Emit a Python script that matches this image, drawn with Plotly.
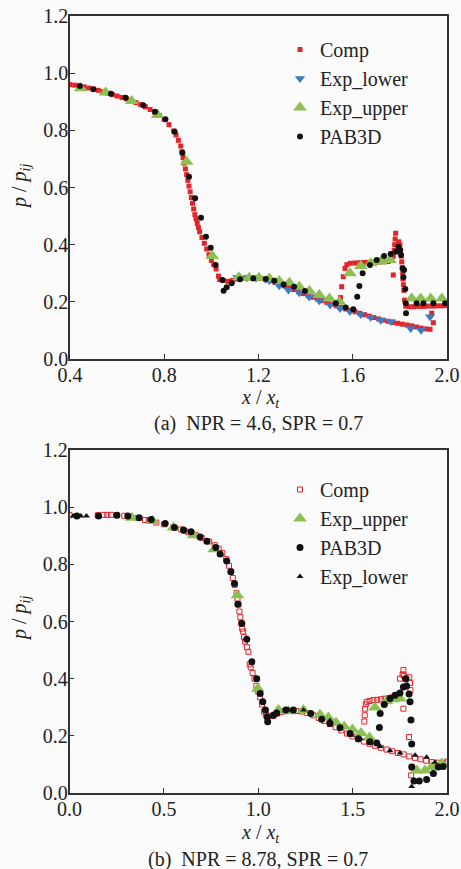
import plotly.graph_objects as go

# ---------------- Panel (a): NPR = 4.6 ----------------
a_comp_x = [0.40, 0.42, 0.44, 0.46, 0.48, 0.50, 0.52, 0.54, 0.56, 0.58, 0.60, 0.62, 0.64, 0.66, 0.68,
            0.70, 0.72, 0.74, 0.76, 0.78, 0.80, 0.82, 0.84, 0.85, 0.86, 0.87, 0.875, 0.88, 0.885, 0.89,
            0.895, 0.90, 0.905, 0.91, 0.915, 0.92, 0.925, 0.93, 0.935, 0.94, 0.945, 0.95, 0.96, 0.97,
            0.98, 0.99, 1.00, 1.01, 1.02, 1.03, 1.035, 1.05, 1.07, 1.09, 1.11, 1.13, 1.15, 1.17, 1.19,
            1.21, 1.23, 1.25, 1.27, 1.29, 1.31, 1.33, 1.35, 1.37, 1.39, 1.41, 1.43, 1.45, 1.47, 1.49,
            1.51, 1.53, 1.55, 1.57, 1.59, 1.61, 1.63, 1.65, 1.67, 1.69, 1.71, 1.73, 1.75, 1.77, 1.79,
            1.81, 1.83, 1.85, 1.87, 1.89, 1.91, 1.928, 1.942, 1.935,
            1.548, 1.553, 1.560, 1.567, 1.575, 1.59, 1.61, 1.63, 1.65, 1.67, 1.69, 1.71, 1.73, 1.75,
            1.765, 1.772, 1.776, 1.778, 1.780, 1.782, 1.772, 1.795, 1.800, 1.803, 1.806, 1.808, 1.810,
            1.812, 1.813, 1.815, 1.817, 1.820, 1.825, 1.84, 1.86, 1.88, 1.90, 1.92, 1.94, 1.96, 1.98,
            2.00]
a_comp_y = [0.960, 0.958, 0.955, 0.952, 0.948, 0.944, 0.940, 0.935, 0.930, 0.925, 0.920, 0.915, 0.910,
            0.904, 0.897, 0.890, 0.882, 0.873, 0.863, 0.852, 0.838, 0.820, 0.798, 0.784, 0.765, 0.745,
            0.725, 0.705, 0.685, 0.665, 0.645, 0.625, 0.605, 0.585, 0.565, 0.545, 0.525, 0.505, 0.490,
            0.475, 0.460, 0.445, 0.425, 0.405, 0.385, 0.365, 0.345, 0.330, 0.315, 0.290, 0.278, 0.275,
            0.272, 0.275, 0.280, 0.282, 0.284, 0.285, 0.284, 0.282, 0.279, 0.274, 0.268, 0.262, 0.256,
            0.250, 0.243, 0.236, 0.229, 0.222, 0.216, 0.210, 0.204, 0.198, 0.192, 0.186, 0.180, 0.175,
            0.170, 0.165, 0.160, 0.155, 0.150, 0.145, 0.140, 0.136, 0.132, 0.128, 0.125, 0.122, 0.119,
            0.116, 0.112, 0.108, 0.105, 0.104, 0.127, 0.160,
            0.215, 0.253, 0.288, 0.317, 0.330, 0.335, 0.336, 0.337, 0.338, 0.338, 0.339, 0.339, 0.340,
            0.341, 0.345, 0.360, 0.380, 0.400, 0.420, 0.440, 0.294, 0.410, 0.400, 0.380, 0.360, 0.340,
            0.320, 0.300, 0.280, 0.260, 0.240, 0.206, 0.185, 0.183, 0.183, 0.184, 0.184, 0.185, 0.185,
            0.186, 0.186, 0.187, 0.188]

a_lower_x = [1.11, 1.15, 1.19, 1.23, 1.246, 1.288, 1.327, 1.373, 1.415, 1.458, 1.504, 1.546, 1.588,
             1.634, 1.676, 1.719, 1.761, 1.846, 1.890, 1.928]
a_lower_y = [0.285, 0.284, 0.283, 0.279, 0.275, 0.256, 0.241, 0.232, 0.218, 0.204, 0.189, 0.177, 0.166,
             0.156, 0.146, 0.136, 0.131, 0.107, 0.101, 0.148]

a_upper_x = [0.445, 0.551, 0.662, 0.772, 0.895, 1.004, 1.117, 1.160, 1.202, 1.246, 1.288, 1.331, 1.373,
             1.416, 1.458, 1.501, 1.543, 1.588, 1.634, 1.676, 1.719, 1.758, 1.850, 1.888, 1.931, 1.978]
a_upper_y = [0.947, 0.932, 0.903, 0.854, 0.690, 0.360, 0.286, 0.284, 0.284, 0.282, 0.273, 0.267, 0.253,
             0.238, 0.224, 0.212, 0.200, 0.300, 0.325, 0.335, 0.341, 0.346, 0.212, 0.212, 0.212, 0.212]

a_pab_x = [0.442, 0.499, 0.574, 0.636, 0.711, 0.761, 0.805, 0.844, 0.877, 0.905, 0.931, 0.956, 0.977,
           0.997, 1.018, 1.047, 1.052, 1.065, 1.086, 1.122, 1.178, 1.231, 1.267, 1.307, 1.351, 1.397,
           1.528, 1.570, 1.602, 1.619, 1.628, 1.642, 1.673, 1.702, 1.733, 1.761, 1.784, 1.794, 1.801,
           1.805, 1.812, 1.818, 1.815, 1.823, 1.825, 1.826, 1.871, 1.900, 1.942, 1.992]
a_pab_y = [0.955, 0.944, 0.928, 0.914, 0.888, 0.865, 0.839, 0.795, 0.722, 0.638, 0.562, 0.494, 0.428,
           0.389, 0.329, 0.276, 0.239, 0.251, 0.265, 0.279, 0.282, 0.280, 0.274, 0.261, 0.253, 0.238,
           0.195, 0.180, 0.174, 0.218, 0.255, 0.300, 0.329, 0.346, 0.360, 0.367, 0.375, 0.393, 0.381,
           0.364, 0.317, 0.311, 0.286, 0.245, 0.195, 0.160, 0.195, 0.195, 0.195, 0.195]

# ---------------- Panel (b): NPR = 8.78 ----------------
b_comp_x = [0.00, 0.15, 0.18, 0.20, 0.22, 0.25, 0.29, 0.32, 0.36, 0.40, 0.42, 0.46, 0.50, 0.55, 0.59,
            0.61, 0.63, 0.67, 0.70, 0.74, 0.77, 0.79, 0.81, 0.83, 0.845, 0.855, 0.865, 0.875, 0.885,
            0.890, 0.895, 0.900, 0.905, 0.910, 0.915, 0.920, 0.925, 0.930, 0.940, 0.948, 0.955, 0.960,
            0.970, 0.980, 0.990, 1.000, 1.010, 1.020, 1.030, 1.040, 1.060, 1.080, 1.100, 1.120, 1.140,
            1.170, 1.200, 1.230, 1.260, 1.290, 1.320, 1.350, 1.380, 1.410, 1.440, 1.470, 1.500, 1.530,
            1.560, 1.590, 1.620, 1.650, 1.680, 1.710, 1.740, 1.770, 1.800, 1.830, 1.860, 1.890, 1.920,
            1.950, 1.980, 2.000,
            1.562, 1.564, 1.566, 1.570, 1.575, 1.590, 1.610, 1.630, 1.650, 1.670, 1.690, 1.710, 1.730,
            1.745, 1.751, 1.765, 1.769, 1.772, 1.785, 1.800, 1.804, 1.806, 1.769, 1.799, 1.810, 1.815]
b_comp_y = [0.972, 0.972, 0.973, 0.973, 0.973, 0.972, 0.970, 0.967, 0.962, 0.955, 0.953, 0.946, 0.940,
            0.930, 0.922, 0.917, 0.912, 0.902, 0.893, 0.880, 0.867, 0.855, 0.840, 0.818, 0.795, 0.775,
            0.752, 0.728, 0.700, 0.680, 0.660, 0.635, 0.615, 0.595, 0.575, 0.565, 0.545, 0.530, 0.510,
            0.494, 0.450, 0.440, 0.420, 0.400, 0.375, 0.355, 0.335, 0.310, 0.285, 0.275, 0.270, 0.270,
            0.278, 0.283, 0.286, 0.288, 0.287, 0.285, 0.280, 0.272, 0.263, 0.252, 0.241, 0.230, 0.219,
            0.208, 0.198, 0.188, 0.180, 0.172, 0.165, 0.158, 0.152, 0.146, 0.140, 0.135, 0.128, 0.123,
            0.118, 0.113, 0.108, 0.106, 0.105, 0.110,
            0.250, 0.272, 0.295, 0.310, 0.319, 0.322, 0.325, 0.326, 0.328, 0.330, 0.332, 0.335, 0.337,
            0.345, 0.400, 0.415, 0.430, 0.410, 0.400, 0.405, 0.385, 0.360, 0.295, 0.196, 0.062, 0.090]

b_upper_x = [0.330, 0.440, 0.551, 0.657, 0.767, 0.890, 0.998, 1.107, 1.160, 1.239, 1.327, 1.371, 1.412,
             1.455, 1.499, 1.545, 1.589, 1.618, 1.680, 1.716, 1.751, 1.839, 1.883, 1.919, 1.972]
b_upper_y = [0.963, 0.952, 0.929, 0.902, 0.853, 0.692, 0.365, 0.290, 0.286, 0.290, 0.274, 0.264, 0.246,
             0.233, 0.222, 0.210, 0.194, 0.299, 0.321, 0.328, 0.331, 0.079, 0.079, 0.091, 0.103]

b_pab_x = [0.039, 0.154, 0.251, 0.309, 0.369, 0.433, 0.507, 0.556, 0.604, 0.644, 0.692, 0.728, 0.775,
           0.798, 0.833, 0.855, 0.874, 0.892, 0.913, 0.939, 0.966, 0.992, 1.010, 1.024, 1.038, 1.047,
           1.050, 1.080, 1.098, 1.146, 1.186, 1.278, 1.336, 1.380, 1.433, 1.486, 1.530, 1.592, 1.628,
           1.642, 1.646, 1.668, 1.698, 1.725, 1.751, 1.769, 1.781, 1.786, 1.799, 1.804, 1.809, 1.813,
           1.813, 1.825, 1.853, 1.892, 1.928, 1.954, 1.980]
b_pab_y = [0.969, 0.969, 0.972, 0.969, 0.963, 0.957, 0.943, 0.929, 0.920, 0.914, 0.896, 0.881, 0.859,
           0.836, 0.812, 0.774, 0.733, 0.660, 0.593, 0.538, 0.459, 0.400, 0.348, 0.319, 0.290, 0.266,
           0.249, 0.272, 0.280, 0.290, 0.290, 0.278, 0.258, 0.243, 0.228, 0.208, 0.190, 0.179, 0.175,
           0.229, 0.278, 0.310, 0.331, 0.342, 0.350, 0.371, 0.400, 0.374, 0.346, 0.319, 0.255, 0.171,
           0.091, 0.042, 0.042, 0.047, 0.068, 0.091, 0.093]

b_lower_x = [0.020, 0.060, 0.090, 1.16, 1.24, 1.38, 1.495, 1.542, 1.590, 1.646, 1.698, 1.751, 1.813,
             1.831, 1.892, 1.936]
b_lower_y = [0.969, 0.969, 0.969, 0.290, 0.290, 0.254, 0.202, 0.190, 0.175, 0.163, 0.148, 0.140, 0.023,
             0.132, 0.125, 0.108]

x_ticks_a = [0.4, 0.8, 1.2, 1.6, 2.0]
x_ticks_b = [0.0, 0.5, 1.0, 1.5, 2.0]
y_ticks = [0.0, 0.2, 0.4, 0.6, 0.8, 1.0, 1.2]

RED = "#e3242b"
BLUE = "#3b7cc2"
GREEN = "#8cc152"
BLACK = "#111111"
FONT = "Liberation Serif"
W, H = 461, 869


def px(x):
    return x / W


def py(y):
    return 1 - y / H


fig = go.Figure()

# Panel (a)
fig.add_trace(go.Scatter(x=a_comp_x, y=a_comp_y, mode="markers", name="Comp", legend="legend",
                         marker=dict(symbol="square", size=5, color=RED), xaxis="x", yaxis="y"))
fig.add_trace(go.Scatter(x=a_lower_x, y=a_lower_y, mode="markers", name="Exp_lower", legend="legend",
                         marker=dict(symbol="triangle-down", size=9, color=BLUE), xaxis="x", yaxis="y"))
fig.add_trace(go.Scatter(x=a_upper_x, y=a_upper_y, mode="markers", name="Exp_upper", legend="legend",
                         marker=dict(symbol="triangle-up", size=12, color=GREEN), xaxis="x", yaxis="y"))
fig.add_trace(go.Scatter(x=a_pab_x, y=a_pab_y, mode="markers", name="PAB3D", legend="legend",
                         marker=dict(symbol="circle", size=6, color=BLACK), xaxis="x", yaxis="y"))

# Panel (b)
fig.add_trace(go.Scatter(x=b_comp_x, y=b_comp_y, mode="markers", name="Comp", legend="legend2",
                         marker=dict(symbol="square-open", size=5, color=RED, line=dict(width=1)),
                         xaxis="x2", yaxis="y2"))
fig.add_trace(go.Scatter(x=b_upper_x, y=b_upper_y, mode="markers", name="Exp_upper", legend="legend2",
                         marker=dict(symbol="triangle-up", size=12, color=GREEN), xaxis="x2", yaxis="y2"))
fig.add_trace(go.Scatter(x=b_pab_x, y=b_pab_y, mode="markers", name="PAB3D", legend="legend2",
                         marker=dict(symbol="circle", size=7, color=BLACK), xaxis="x2", yaxis="y2"))
fig.add_trace(go.Scatter(x=b_lower_x, y=b_lower_y, mode="markers", name="Exp_lower", legend="legend2",
                         marker=dict(symbol="triangle-up", size=6, color=BLACK), xaxis="x2", yaxis="y2"))

axis_common = dict(showline=True, linecolor="#333333", linewidth=1.5, mirror=True, ticks="inside",
                   ticklen=5, tickwidth=1.2, tickcolor="#333333", showgrid=False, zeroline=False,
                   automargin=False, tickfont=dict(family=FONT, size=20, color="#222222"))

legend_common = dict(font=dict(family=FONT, size=20, color="#222222"), bgcolor="rgba(0,0,0,0)",
                     borderwidth=0, xanchor="left", yanchor="top", itemwidth=30, tracegroupgap=0)

fig.update_layout(
    width=W, height=H, margin=dict(l=0, r=0, t=0, b=0, autoexpand=False),
    paper_bgcolor="#fbfbfb", plot_bgcolor="#fbfbfb",
    xaxis=dict(domain=[px(70), px(447)], range=[0.4, 2.0], tickvals=x_ticks_a, tickformat=".1f",
               anchor="y", ticklabelstandoff=-3, **axis_common),
    yaxis=dict(domain=[py(359), py(16)], range=[0, 1.2], tickvals=y_ticks, tickformat=".1f",
               anchor="x", ticklabelstandoff=-4, **axis_common),
    xaxis2=dict(domain=[px(69.5), px(447)], range=[0.0, 2.0], tickvals=x_ticks_b, tickformat=".1f",
                anchor="y2", ticklabelstandoff=-3, **axis_common),
    yaxis2=dict(domain=[py(793), py(450)], range=[0, 1.2], tickvals=y_ticks, tickformat=".1f",
                anchor="x2", ticklabelstandoff=-4, **axis_common),
    legend=dict(x=px(280), y=py(30), **legend_common),
    legend2=dict(x=px(280), y=py(470), **legend_common),
    showlegend=True,
)

ann_font = dict(family=FONT, size=20, color="#222222")
annotations = [
    dict(text="<i>p</i> / <i>p</i><sub><i>ij</i></sub>", x=px(20), y=py(187), textangle=-90),
    dict(text="<i>p</i> / <i>p</i><sub><i>ij</i></sub>", x=px(20), y=py(619), textangle=-90),
    dict(text="<i>x</i> / <i>x</i><sub><i>t</i></sub>", x=px(260), y=py(398)),
    dict(text="<i>x</i> / <i>x</i><sub><i>t</i></sub>", x=px(260), y=py(833)),
    dict(text="(a)  NPR = 4.6, SPR = 0.7", x=px(258), y=py(423)),
    dict(text="(b)  NPR = 8.78, SPR = 0.7", x=px(258), y=py(859)),
]
for a in annotations:
    a.update(xref="paper", yref="paper", showarrow=False, font=ann_font, xanchor="center",
             yanchor="middle")
fig.update_layout(annotations=annotations)

fig.write_html("out.html", config={"displayModeBar": False},
               post_script="document.body.style.margin='0';document.body.style.padding='0';")
